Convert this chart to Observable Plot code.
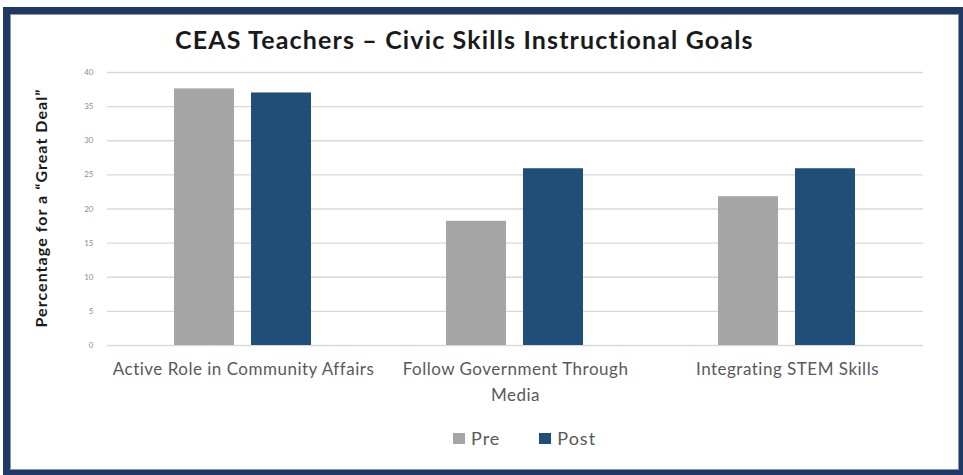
<!DOCTYPE html>
<html><head><meta charset="utf-8">
<script src="https://cdn.jsdelivr.net/npm/d3@7"></script>
<script src="https://cdn.jsdelivr.net/npm/@observablehq/plot@0.6"></script>
<style>
body{margin:0;background:#fff;}
#wrap{position:relative;width:963px;height:475px;overflow:hidden;font-family:Lato,"Open Sans",sans-serif;background:#fff;}
#frame{position:absolute;left:3px;top:7px;width:949px;height:456px;border:7px solid #1f3864;box-shadow:inset 0 0 0 1px #8496b0;z-index:5;pointer-events:none;}
#chart{position:absolute;left:0;top:0;}
#title{position:absolute;left:175px;top:27px;font-size:25px;letter-spacing:1.15px;font-weight:700;color:#1a1a1a;white-space:nowrap;line-height:1;}
#ylabel{position:absolute;left:41px;top:208px;transform:translate(-50%,-50%) rotate(-90deg);font-size:16px;letter-spacing:1.05px;font-weight:700;color:#1a1a1a;white-space:nowrap;line-height:1;}
#legend{position:absolute;left:453px;top:429px;display:flex;align-items:center;font-size:18px;letter-spacing:1px;color:#595959;line-height:1;}
#legend .item{display:flex;align-items:center;margin-right:39px;}
#legend .sw{width:12px;height:11px;margin-right:6px;}
#chart g[aria-label="fx-axis tick label"] text{letter-spacing:0.5px;}
</style>
</head><body>
<div id="wrap">
  <div id="frame"></div>
  <div id="chart"></div>
  <div id="title"></div>
  <div id="ylabel"></div>
  <div id="legend"></div>
</div>
<script>
const titleText = "CEAS Teachers \u2013 Civic Skills Instructional Goals";
const yLabelText = "Percentage for a \u201cGreat Deal\u201d";
const categories = ["Active Role in Community Affairs", "Follow Government Through Media", "Integrating STEM Skills"];
const categoryLabels = ["Active Role in Community Affairs", "Follow Government Through\nMedia", "Integrating STEM Skills"];
const series = ["Pre", "Post"];
const preValues = [37.6, 18.2, 21.8];
const postValues = [37.0, 25.9, 25.9];
const yTicks = [0, 5, 10, 15, 20, 25, 30, 35, 40];
const seriesColors = ["#a5a5a5", "#1f4e79"];

const data = categories.flatMap((c, i) => [
  {category: c, series: "Pre", value: preValues[i]},
  {category: c, series: "Post", value: postValues[i]}
]);

const chart = Plot.plot({
  width: 963,
  height: 475,
  marginTop: 72,
  marginBottom: 130,
  marginLeft: 106,
  marginRight: 40,
  style: {background: "transparent", fontFamily: "Lato, 'Open Sans', sans-serif"},
  fx: {domain: categories, padding: 0, label: null},
  x: {domain: series, paddingInner: 0.218, paddingOuter: 0.856, axis: null, label: null},
  y: {domain: [0, 40], label: null},
  color: {domain: series, range: seriesColors},
  marks: [
    Plot.gridY(yTicks, {stroke: "#d9d9d9", strokeOpacity: 1, strokeWidth: 1.3}),
    Plot.axisY(yTicks, {tickSize: 0, tickPadding: 14, fontSize: 8, color: "#8c8c8c", label: null}),
    Plot.barY(data, {fx: "category", x: "series", y: "value", fill: "series"}),
    Plot.axisFx({anchor: "bottom", tickSize: 0, tickPadding: 11, fontSize: 17, color: "#595959", lineHeight: 1.53,
      tickFormat: d => categoryLabels[categories.indexOf(d)], label: null})
  ]
});
document.getElementById("chart").appendChild(chart);
document.getElementById("title").textContent = titleText;
document.getElementById("ylabel").textContent = yLabelText;
const legend = document.getElementById("legend");
series.forEach((s, i) => {
  const item = document.createElement("div");
  item.className = "item";
  const sw = document.createElement("span");
  sw.className = "sw";
  sw.style.background = seriesColors[i];
  const t = document.createElement("span");
  t.textContent = s;
  item.appendChild(sw); item.appendChild(t);
  legend.appendChild(item);
});
</script>
</body></html>
